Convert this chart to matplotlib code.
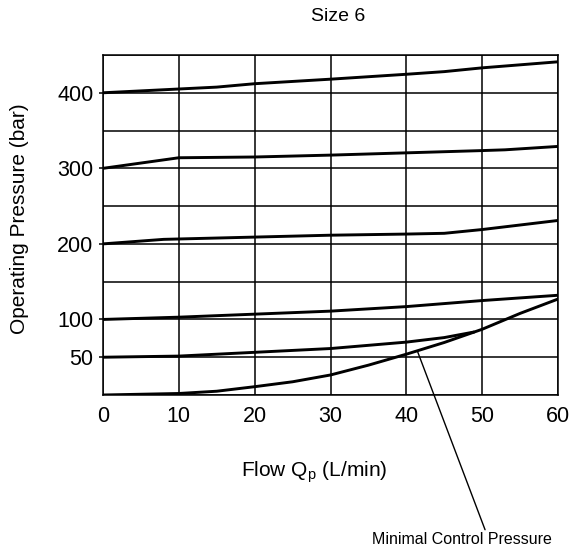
from matplotlib import pyplot as plt

plt.rcParams["font.family"] = ["Liberation Sans", "DejaVu Sans"]
plt.rcParams["mathtext.fontset"] = "custom"
plt.rcParams["mathtext.rm"] = "Liberation Sans"

# flow (L/min) vs operating pressure (bar)
flow_400 = [0, 10, 15, 20, 30, 40, 45, 50, 60]
pres_400 = [400, 405, 407.5, 412, 418, 424.5, 428, 433, 441]

flow_300 = [0, 10, 20, 30, 40, 50, 53, 60]
pres_300 = [300, 314, 315, 317.5, 320.5, 323.5, 324.5, 329]

flow_200 = [0, 8, 20, 30, 40, 45, 50, 60]
pres_200 = [200, 206, 209, 211.5, 213, 214, 219, 231]

flow_100 = [0, 10, 20, 30, 40, 50, 60]
pres_100 = [100, 103, 107, 111, 117, 125, 132]

flow_50 = [0, 10, 20, 30, 40, 45, 49]
pres_50 = [50, 51.5, 56.5, 61.5, 70, 76, 83.5]

flow_min = [0, 10, 15, 20, 25, 30, 35, 40, 45, 50, 55, 60]
pres_min = [0, 2, 5, 11, 17.5, 26.5, 39.5, 54, 69.5, 87, 108, 127]

x_ticks = [0, 10, 20, 30, 40, 50, 60]
y_ticks = [50, 100, 200, 300, 400]
y_grid = [0, 50, 100, 150, 200, 250, 300, 350, 400, 450]

fig = plt.figure(figsize=(5.73, 5.49), dpi=100)
ax = fig.add_axes([103 / 573, 154 / 549, 455 / 573, 340 / 549])

for fx, py in [(flow_400, pres_400), (flow_300, pres_300), (flow_200, pres_200),
               (flow_100, pres_100), (flow_50, pres_50), (flow_min, pres_min)]:
    ax.plot(fx, py, color="black", linewidth=2.1, solid_capstyle="butt", zorder=3)

ax.set_xlim(0, 60)
ax.set_ylim(0, 450)
ax.set_xticks(x_ticks)
ax.set_yticks(y_ticks)
ax.set_yticks(y_grid, minor=True)
ax.grid(which="both", color="black", linewidth=1.1)
ax.tick_params(which="major", length=3, width=1.1, labelsize=15.5, pad=4)
ax.tick_params(which="minor", length=0)
ax.tick_params(axis="x", length=0, pad=8)
for s in ax.spines.values():
    s.set_linewidth(1.1)

ax.set_xlabel(r"Flow Q$_\mathrm{p}$ (L/min)", fontsize=15)
ax.xaxis.set_label_coords(0.464, -0.188)
ax.set_ylabel("Operating Pressure (bar)", fontsize=15)
ax.yaxis.set_label_coords(-0.163, 0.519)

ax.text(0.516, 1.112, "Size 6", transform=ax.transAxes, ha="center", va="center", fontsize=14)

ax.annotate("Minimal Control Pressure", xy=(41.5, 57), xycoords="data",
            xytext=(462 / 573, 9 / 549), textcoords="figure fraction",
            ha="center", va="center", fontsize=11.5, annotation_clip=False,
            arrowprops=dict(arrowstyle="-", color="black", linewidth=1.0,
                            shrinkA=0, shrinkB=0, relpos=(0.634, 1.0)))

fig.savefig("out.png", dpi=100)
